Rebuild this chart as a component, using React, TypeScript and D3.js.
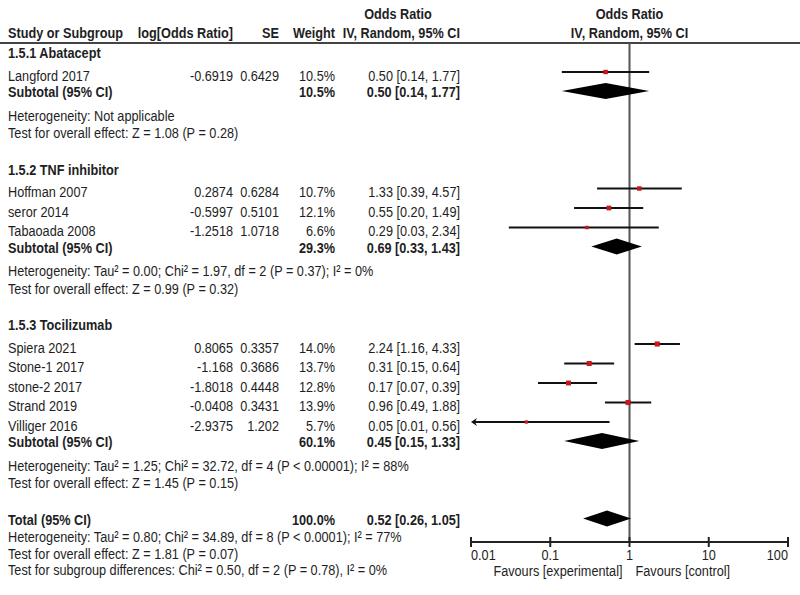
import * as d3 from 'd3'
import React from 'react'

// study-level rows: name, log odds ratio, SE, weight (%), OR and 95% CI as printed
const groups = ['1.5.1 Abatacept', '1.5.2 TNF inhibitor', '1.5.3 Tocilizumab']
const studyGroup = [0, 1, 1, 1, 2, 2, 2, 2, 2]
const studyNames = [
    'Langford 2017',
    'Hoffman 2007',
    'seror 2014',
    'Tabaoada 2008',
    'Spiera 2021',
    'Stone-1 2017',
    'stone-2 2017',
    'Strand 2019',
    'Villiger 2016',
]
const logOR = ['-0.6919', '0.2874', '-0.5997', '-1.2518', '0.8065', '-1.168', '-1.8018', '-0.0408', '-2.9375']
const stdErr = ['0.6429', '0.6284', '0.5101', '1.0718', '0.3357', '0.3686', '0.4448', '0.3431', '1.202']
const weights = [10.5, 10.7, 12.1, 6.6, 14.0, 13.7, 12.8, 13.9, 5.7]
const oddsRatio = [0.5, 1.33, 0.55, 0.29, 2.24, 0.31, 0.17, 0.96, 0.05]
const ciLow = [0.14, 0.39, 0.2, 0.03, 1.16, 0.15, 0.07, 0.49, 0.01]
const ciHigh = [1.77, 4.57, 1.49, 2.34, 4.33, 0.64, 0.39, 1.88, 0.56]

// pooled estimates per subgroup
const subWeight = [10.5, 29.3, 60.1]
const subOR = [0.5, 0.69, 0.45]
const subLow = [0.14, 0.33, 0.15]
const subHigh = [1.77, 1.43, 1.33]
const heterogeneity = [
    'Heterogeneity: Not applicable',
    'Heterogeneity: Tau² = 0.00; Chi² = 1.97, df = 2 (P = 0.37); I² = 0%',
    'Heterogeneity: Tau² = 1.25; Chi² = 32.72, df = 4 (P < 0.00001); I² = 88%',
]
const overallEffect = [
    'Test for overall effect: Z = 1.08 (P = 0.28)',
    'Test for overall effect: Z = 0.99 (P = 0.32)',
    'Test for overall effect: Z = 1.45 (P = 0.15)',
]

// overall
const totalOR = 0.52
const totalLow = 0.26
const totalHigh = 1.05
const totalNotes = [
    'Heterogeneity: Tau² = 0.80; Chi² = 34.89, df = 8 (P < 0.0001); I² = 77%',
    'Test for overall effect: Z = 1.81 (P = 0.07)',
    'Test for subgroup differences: Chi² = 0.50, df = 2 (P = 0.78), I² = 0%',
]

const axisTicks = [0.01, 0.1, 1, 10, 100]
const tickLabels = ['0.01', '0.1', '1', '10', '100']

const W = 800
const H = 595
// narrow look: Arial-metric sans squeezed horizontally
const font = "'Liberation Sans', Arial, sans-serif"
const fs = 15.5
const squeeze = 0.82
const ink = '#1e1e24'
const axisY = 542
const ruleY = 43

const col = { name: 8, log: 233, se: 279, weight: 335, or: 460 }

const fmt = d3.format('.2f')
const ciText = (o: number, l: number, h: number) => `${fmt(o)} [${fmt(l)}, ${fmt(h)}]`

type Row =
    | { kind: 'group'; y: number; g: number }
    | { kind: 'study'; y: number; i: number }
    | { kind: 'subtotal'; y: number; g: number }
    | { kind: 'note'; y: number; text: string }
    | { kind: 'total'; y: number }

function buildRows(): Row[] {
    const rows: Row[] = []
    let y = 53
    groups.forEach((_, g) => {
        rows.push({ kind: 'group', y, g })
        y += 22.5
        const idx = studyGroup.map((sg, i) => (sg === g ? i : -1)).filter((i) => i >= 0)
        idx.forEach((i, k) => {
            if (k > 0) y += 19.5
            rows.push({ kind: 'study', y, i })
        })
        y += 16.5
        rows.push({ kind: 'subtotal', y, g })
        y += 23.5
        rows.push({ kind: 'note', y, text: heterogeneity[g] })
        y += 17.5
        rows.push({ kind: 'note', y, text: overallEffect[g] })
        y += 36.5
    })
    rows.push({ kind: 'total', y })
    totalNotes.forEach((t) => {
        y += 16.8
        rows.push({ kind: 'note', y, text: t })
    })
    return rows
}

export default function App() {
    const x = d3.scaleLog().domain([0.01, 100]).range([471, 788])
    const rows = buildRows()
    const sq = d3.scaleSqrt().domain([0, 14]).range([0, 5.1])

    const diamond = (o: number, l: number, h: number, y: number) =>
        `M${x(l)},${y} L${x(o)},${y - 8} L${x(h)},${y} L${x(o)},${y + 8} Z`

    const txt = (s: string, xx: number, y: number, anchor = 'start', bold = false, key?: string) => (
        <text
            key={key}
            transform={`translate(${xx},${y}) scale(${squeeze},1)`}
            dy="0.35em"
            textAnchor={anchor}
            fontWeight={bold ? 'bold' : 'normal'}
        >
            {s}
        </text>
    )

    return (
        <svg
            width={W}
            height={H}
            style={{ position: 'absolute', left: 0, top: 0, background: '#fff' }}
            fontFamily={font}
            fontSize={fs}
            fill={ink}
        >
            {/* column headers */}
            {txt('Odds Ratio', 398, 14, 'middle', true)}
            {txt('Odds Ratio', x(1), 14, 'middle', true)}
            {txt('Study or Subgroup', col.name, 33, 'start', true)}
            {txt('log[Odds Ratio]', col.log, 33, 'end', true)}
            {txt('SE', col.se, 33, 'end', true)}
            {txt('Weight', col.weight, 33, 'end', true)}
            {txt('IV, Random, 95% CI', col.or, 33, 'end', true)}
            {txt('IV, Random, 95% CI', x(1), 33, 'middle', true)}
            <line x1={0} x2={W} y1={ruleY} y2={ruleY} stroke="#444" strokeWidth={2} />

            {/* line of no effect */}
            <line x1={x(1)} x2={x(1)} y1={ruleY} y2={axisY} stroke="#555" strokeWidth={2} />

            {rows.map((r, k) => {
                if (r.kind === 'group') return txt(groups[r.g], col.name, r.y, 'start', true, `r${k}`)
                if (r.kind === 'note') return txt(r.text, col.name, r.y, 'start', false, `r${k}`)
                if (r.kind === 'study') {
                    const i = r.i
                    const ly = r.y - 3.5
                    const lo = ciLow[i]
                    const clipped = lo <= x.domain()[0]
                    const x0 = x(Math.max(lo, x.domain()[0]))
                    const s = Math.max(3, sq(weights[i]))
                    return (
                        <g key={`r${k}`}>
                            {txt(studyNames[i], col.name, r.y)}
                            {txt(logOR[i], col.log, r.y, 'end')}
                            {txt(stdErr[i], col.se, r.y, 'end')}
                            {txt(`${weights[i].toFixed(1)}%`, col.weight, r.y, 'end')}
                            {txt(ciText(oddsRatio[i], ciLow[i], ciHigh[i]), col.or, r.y, 'end')}
                            <line
                                x1={clipped ? x0 + 3 : x0}
                                x2={x(ciHigh[i])}
                                y1={ly}
                                y2={ly}
                                stroke="#111"
                                strokeWidth={2}
                            />
                            {clipped && (
                                <path
                                    d={`M${x0},${ly} L${x0 + 6},${ly - 4} L${x0 + 4},${ly} L${x0 + 6},${ly + 4} Z`}
                                    fill="#111"
                                />
                            )}
                            <rect
                                x={x(oddsRatio[i]) - s / 2}
                                y={ly - s / 2}
                                width={s}
                                height={s}
                                fill="#c8161e"
                            />
                        </g>
                    )
                }
                if (r.kind === 'subtotal') {
                    const g = r.g
                    return (
                        <g key={`r${k}`}>
                            {txt('Subtotal (95% CI)', col.name, r.y, 'start', true)}
                            {txt(`${subWeight[g].toFixed(1)}%`, col.weight, r.y, 'end', true)}
                            {txt(ciText(subOR[g], subLow[g], subHigh[g]), col.or, r.y, 'end', true)}
                            <path d={diamond(subOR[g], subLow[g], subHigh[g], r.y - 1)} fill="#000" />
                        </g>
                    )
                }
                return (
                    <g key={`r${k}`}>
                        {txt('Total (95% CI)', col.name, r.y, 'start', true)}
                        {txt('100.0%', col.weight, r.y, 'end', true)}
                        {txt(ciText(totalOR, totalLow, totalHigh), col.or, r.y, 'end', true)}
                        <path d={diamond(totalOR, totalLow, totalHigh, r.y - 1)} fill="#000" />
                    </g>
                )
            })}

            {/* log axis */}
            <g>
                <line x1={x(0.01)} x2={x(100)} y1={axisY} y2={axisY} stroke="#222" strokeWidth={2} />
                {axisTicks.map((t, i) => (
                    <g key={t}>
                        <line x1={x(t)} x2={x(t)} y1={axisY - 5} y2={axisY + 5} stroke="#222" strokeWidth={2} />
                        {txt(
                            tickLabels[i],
                            x(t),
                            axisY + 12.5,
                            i === 0 ? 'start' : i === axisTicks.length - 1 ? 'end' : 'middle',
                            false,
                        )}
                    </g>
                ))}
                {txt('Favours [experimental]', x(1) - 7, axisY + 29, 'end')}
                {txt('Favours [control]', x(1) + 6, axisY + 29, 'start')}
            </g>
        </svg>
    )
}
